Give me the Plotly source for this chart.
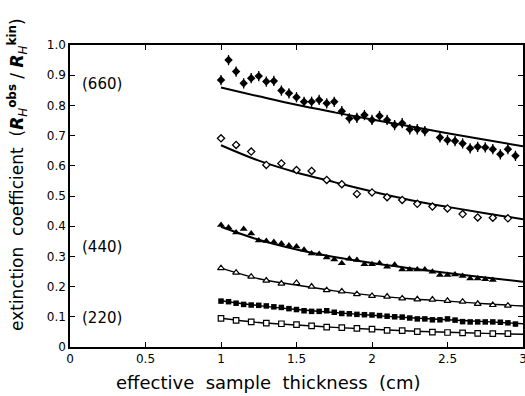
import plotly.graph_objects as go

# ---- data ----
# (660) filled diamonds, observed, step 0.05 (2.40 missing)
x660 = [1.00, 1.05, 1.10, 1.15, 1.20, 1.25, 1.30, 1.35, 1.40, 1.45, 1.50, 1.55, 1.60, 1.65,
        1.70, 1.75, 1.80, 1.85, 1.90, 1.95, 2.00, 2.05, 2.10, 2.15, 2.20, 2.25, 2.30, 2.35,
        2.45, 2.50, 2.55, 2.60, 2.65, 2.70, 2.75, 2.80, 2.85, 2.90, 2.95]
y660 = [0.884, 0.950, 0.912, 0.873, 0.890, 0.897, 0.879, 0.881, 0.849, 0.840, 0.827, 0.812,
        0.812, 0.818, 0.807, 0.812, 0.781, 0.757, 0.759, 0.768, 0.752, 0.765, 0.752, 0.735,
        0.741, 0.721, 0.721, 0.715, 0.694, 0.685, 0.682, 0.674, 0.658, 0.663, 0.661, 0.655,
        0.638, 0.655, 0.633]
e660 = 0.017

# open diamonds, step 0.1
xod = [1.0, 1.1, 1.2, 1.3, 1.4, 1.5, 1.6, 1.7, 1.8, 1.9, 2.0, 2.1, 2.2, 2.3, 2.4, 2.5, 2.6, 2.7, 2.8, 2.9]
yod = [0.691, 0.669, 0.647, 0.603, 0.608, 0.586, 0.583, 0.553, 0.539, 0.507, 0.512, 0.496,
       0.487, 0.474, 0.465, 0.459, 0.440, 0.429, 0.428, 0.426]
eod = 0.011

# (440) filled triangles, step 0.05
xft = [1.00, 1.05, 1.10, 1.15, 1.20, 1.25, 1.30, 1.35, 1.40, 1.45, 1.50, 1.55, 1.60, 1.65,
       1.70, 1.75, 1.80, 1.85, 1.90, 1.95, 2.00, 2.05, 2.10, 2.15, 2.20, 2.25, 2.30, 2.35,
       2.40, 2.45, 2.50, 2.55, 2.60, 2.65, 2.70, 2.75, 2.80]
yft = [0.404, 0.396, 0.379, 0.391, 0.376, 0.353, 0.351, 0.348, 0.343, 0.336, 0.333, 0.322,
       0.310, 0.308, 0.296, 0.290, 0.277, 0.292, 0.288, 0.274, 0.274, 0.277, 0.266, 0.272,
       0.257, 0.257, 0.257, 0.257, 0.249, 0.238, 0.238, 0.240, 0.235, 0.227, 0.227, 0.224,
       0.222]

# open triangles, step 0.1
xot = [1.0, 1.1, 1.2, 1.3, 1.4, 1.5, 1.6, 1.7, 1.8, 1.9, 2.0, 2.1, 2.2, 2.3, 2.4, 2.5, 2.6, 2.7, 2.8, 2.9]
yot = [0.261, 0.246, 0.233, 0.220, 0.210, 0.212, 0.200, 0.188, 0.184, 0.175, 0.169, 0.167,
       0.161, 0.158, 0.157, 0.153, 0.150, 0.143, 0.139, 0.137]

# (220) filled squares, step 0.05
xfs = [1.00, 1.05, 1.10, 1.15, 1.20, 1.25, 1.30, 1.35, 1.40, 1.45, 1.50, 1.55, 1.60, 1.65,
       1.70, 1.75, 1.80, 1.85, 1.90, 1.95, 2.00, 2.05, 2.10, 2.15, 2.20, 2.25, 2.30, 2.35,
       2.40, 2.45, 2.50, 2.55, 2.60, 2.65, 2.70, 2.75, 2.80, 2.85, 2.90, 2.95]
yfs = [0.152, 0.150, 0.145, 0.141, 0.139, 0.138, 0.136, 0.133, 0.131, 0.127, 0.124, 0.120,
       0.118, 0.118, 0.120, 0.115, 0.111, 0.110, 0.108, 0.107, 0.106, 0.104, 0.102, 0.100,
       0.099, 0.096, 0.093, 0.093, 0.090, 0.090, 0.093, 0.089, 0.084, 0.083, 0.083, 0.083,
       0.083, 0.082, 0.080, 0.076]

# open squares, step 0.1
xos = [1.0, 1.1, 1.2, 1.3, 1.4, 1.5, 1.6, 1.7, 1.8, 1.9, 2.0, 2.1, 2.2, 2.3, 2.4, 2.5, 2.6, 2.7, 2.8, 2.9]
yos = [0.095, 0.088, 0.083, 0.079, 0.077, 0.074, 0.070, 0.066, 0.064, 0.062, 0.059, 0.055,
       0.054, 0.051, 0.049, 0.048, 0.047, 0.045, 0.044, 0.044]

# calculated curves
xfit = [1.0, 1.25, 1.5, 1.75, 2.0, 2.25, 2.5, 2.75, 3.0]
fit660 = [0.859, 0.830, 0.802, 0.777, 0.753, 0.731, 0.708, 0.686, 0.665]
fitod = [0.668, 0.617, 0.578, 0.546, 0.515, 0.487, 0.464, 0.443, 0.423]
fitft = [0.398, 0.355, 0.323, 0.298, 0.278, 0.261, 0.245, 0.230, 0.216]
fitot = [0.261, 0.226, 0.205, 0.186, 0.171, 0.160, 0.152, 0.143, 0.136]
fitfs = [0.153, 0.137, 0.124, 0.114, 0.105, 0.097, 0.090, 0.084, 0.077]
fitos = [0.095, 0.081, 0.073, 0.065, 0.059, 0.053, 0.049, 0.045, 0.042]

xticks = [0, 0.5, 1, 1.5, 2, 2.5, 3]
xticklabels = ["0", "0.5", "1", "1.5", "2", "2.5", "3"]
yticks = [0, 0.1, 0.2, 0.3, 0.4, 0.5, 0.6, 0.7, 0.8, 0.9, 1.0]
yticklabels = ["0", "0.1", "0.2", "0.3", "0.4", "0.5", "0.6", "0.7", "0.8", "0.9", "1.0"]

reflections = ["(660)", "(440)", "(220)"]
label_y = [0.87, 0.331, 0.096]

FONT = "DejaVu Sans"
W, H = 525, 396
ML, MR, MT, MB = 70, 2, 45, 49
PW, PH = W - ML - MR, H - MT - MB

fig = go.Figure()

def curve(y, w):
    fig.add_trace(go.Scatter(x=xfit, y=y, mode="lines", line=dict(color="black", width=w, shape="spline"),
                             hoverinfo="skip", showlegend=False))

curve(fit660, 2)
curve(fitod, 2)
curve(fitft, 2)
curve(fitot, 1.4)
curve(fitfs, 1.4)
curve(fitos, 1.4)

fig.add_trace(go.Scatter(x=x660, y=y660, mode="markers",
                         marker=dict(symbol="diamond", size=6.5, color="black"),
                         error_y=dict(type="constant", value=e660, color="black", thickness=1.3, width=0),
                         showlegend=False))
fig.add_trace(go.Scatter(x=xod, y=yod, mode="markers",
                         marker=dict(symbol="diamond", size=5.5, color="white", line=dict(color="black", width=1.3)),
                         error_y=dict(type="constant", value=eod, color="black", thickness=1.2, width=0),
                         showlegend=False))
fig.add_trace(go.Scatter(x=xft, y=yft, mode="markers",
                         marker=dict(symbol="triangle-up", size=7, color="black"),
                         showlegend=False))
fig.add_trace(go.Scatter(x=xot, y=yot, mode="markers",
                         marker=dict(symbol="triangle-up", size=6, color="white", line=dict(color="black", width=1.2)),
                         showlegend=False))
fig.add_trace(go.Scatter(x=xfs, y=yfs, mode="markers",
                         marker=dict(symbol="square", size=5.5, color="black"),
                         showlegend=False))
fig.add_trace(go.Scatter(x=xos, y=yos, mode="markers",
                         marker=dict(symbol="square", size=5.5, color="white", line=dict(color="black", width=1.2)),
                         showlegend=False))

for t, yv in zip(reflections, label_y):
    fig.add_annotation(x=0.065, y=yv, xref="x", yref="y", text=t, showarrow=False,
                       xanchor="left", yanchor="middle", font=dict(family=FONT, size=15, color="black"))

# x-axis title (placed in pixel terms converted to paper fractions)
fig.add_annotation(x=(268 - ML) / PW, y=-(382 - (H - MB)) / PH, xref="paper", yref="paper",
                   text="effective  sample  thickness  (cm)", showarrow=False,
                   xanchor="center", yanchor="middle",
                   font=dict(family=FONT, size=18, color="black"))

# y-axis title
fig.add_annotation(x=-(ML - 17) / PW, y=((H - MB) - 175) / PH, xref="paper", yref="paper",
                   text="extinction  coefficient  (<b><i>R</i></b><sub><i>H</i></sub><sup><b>obs</b></sup> / <b><i>R</i></b><sub><i>H</i></sub><sup><b>kin</b></sup>)",
                   textangle=-90, showarrow=False, xanchor="center", yanchor="middle",
                   font=dict(family=FONT, size=17, color="black"))

axis_common = dict(showline=True, linecolor="black", linewidth=1.5, mirror="ticks",
                   ticks="inside", ticklen=5, tickwidth=1, tickcolor="black",
                   showgrid=False, zeroline=False, automargin=False,
                   ticklabeloverflow="allow",
                   tickfont=dict(family=FONT, size=12, color="black"))

fig.update_layout(
    width=W, height=H,
    margin=dict(l=ML, r=MR, t=MT, b=MB, autoexpand=False),
    paper_bgcolor="white", plot_bgcolor="white",
    xaxis=dict(range=[0, 3], tickvals=xticks, ticktext=xticklabels, **axis_common),
    yaxis=dict(range=[0, 1.0], tickvals=yticks, ticktext=yticklabels, **axis_common),
)

fig.write_html("out.html", config={"displayModeBar": False},
               post_script="document.body.style.margin='0';document.body.style.overflow='hidden';")
